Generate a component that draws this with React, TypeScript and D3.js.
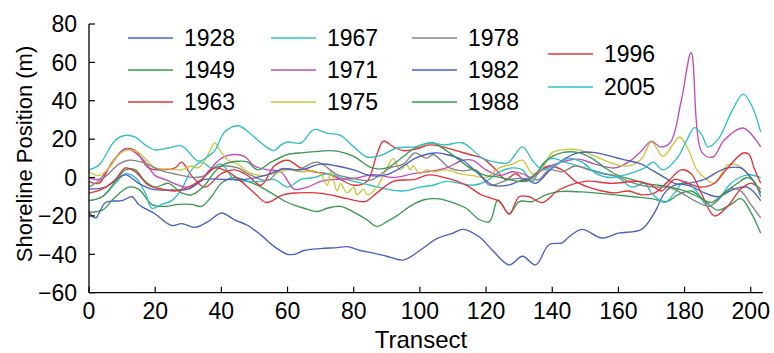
import React from "react";
import * as d3 from "d3";

// [transect, shoreline position (m)]
const s1928: [number, number][] = [[0,-18],[2,-21],[5,-13],[10,-12],[13,-10],[15,-14],[20,-19],[25,-25],[28,-24],[32,-26],[36,-23],[40,-18.5],[44,-22],[48,-25],[52,-30],[56,-36],[60,-40],[62,-40],[65,-38],[70,-37],[75,-36.5],[78,-36],[82,-38],[85,-39],[90,-41],[95,-43],[100,-38],[105,-32],[110,-29],[113,-27],[118,-31],[122,-38],[127,-45.5],[131,-41],[135,-45.5],[139,-35],[143,-34],[145,-31],[149,-27],[155,-31.5],[160,-29],[167,-27],[171,-18],[174,-8],[177,-4],[181,-4],[186,-8],[190,-10],[195,-6],[199,-5],[203,-12]];
const s1949: [number, number][] = [[0,-18],[4,-17],[8,-10],[12,-5],[15,-6],[19,-14],[23,-15],[27,-14],[31,-14],[34,-15],[37,-10],[40,-3],[44,0],[48,-2],[52,-5],[56,-9],[60,-13],[65,-16],[69,-17.7],[72,-16],[76,-15],[80,-18],[84,-22],[87,-25.5],[90,-23],[93,-20],[97,-15],[101,-11.7],[105,-11],[109,-12.5],[114,-16],[118,-22],[121,-23],[123.6,-11.7],[127,-19],[130,-12.5],[134,-12.5],[138,-9],[142,-7.3],[149,-7.5],[156,-8.5],[164.5,-10],[170,-11],[174.7,-12.5],[178,-9],[182,-7],[186,-12],[190,-17],[194,-14],[197,-11],[200,-18],[203,-29]];
const s1963: [number, number][] = [[0,-2],[3,-3],[7,8],[11,15],[14,14],[18,5],[22,4],[26,5],[28,8],[31,1],[35,-5],[40,2],[44,4],[48,1],[52,-4],[56,6],[60,9],[64,5],[68,3],[72,2],[76,-1],[80,-4],[84,-2],[87,12],[89,19],[92,16],[95,14],[99,15],[103,17],[107,16],[111,14],[115,12],[119,10],[123,4],[126,-1],[129,2],[132,-2],[135,2],[139,6],[143,4],[147,-2],[151,-5],[155,-7],[159,-8],[163,-7],[167,-9],[171,-8],[175,-2],[179,4],[182,2],[185,-8],[189,-20],[193,-15],[197,-6],[200,-3],[203,-6]];
const s1967: [number, number][] = [[0,-12],[4,-10],[8,-3],[11,2],[14,0],[17,-8],[19,-16],[22,-14],[25,-12],[28,-6],[31,4],[34,8],[37,5],[40,7],[44,-1],[48,-2],[52,-2],[56,-1],[60,-5],[64,-1],[68,0],[72,2],[76,0],[80,-2],[85,-4],[90,-6],[95,-7],[100,-5],[104,-4],[108,-2],[112,-3],[116,-4],[120,-2],[124,3],[128,5],[131,4],[134,-2],[137,7],[140,10],[144,8],[148,6],[152,4],[156,2],[160,0],[164,-5],[168,-3],[170,-8],[174,-13],[177,-8],[180,-2],[184,-8],[187,-15],[190,-12],[194,-3],[199,1.4],[203,0]];
const s1971: [number, number][] = [[0,0],[3,-1],[6,5],[9,12],[11,15],[14,13],[17,8],[20,1],[23,-1],[27,-4],[30,-5],[33,-3],[36,3],[40,10],[44,12],[47,11],[50,6],[54,4],[58,3],[62,-6],[66,-5],[70,-2],[74,-1],[80,-0.5],[86,1.5],[92,0],[98,2],[104,3.5],[108,5],[113,9],[116,9],[120,4],[124,1],[128,3],[131,2],[134,0],[137,4],[141,7],[145,9],[148,9.6],[153,7],[159,5],[163,8],[167,14],[170,19],[172.6,16],[175.6,18],[179,40],[182,65],[185.3,13],[188.6,10.7],[192,19.6],[197.7,25.8],[203,16]];
const s1975: [number, number][] = [[0,3],[3,1],[6,5],[9,12],[12,14.4],[15,13],[18,8],[20,5],[24,4.5],[28,4],[31,6],[33,5],[36,12],[38,18],[40,13],[42,9],[45,7],[48,3],[52,1],[56,2],[60,4],[64,3],[68,3.5],[70,2],[72,-4],[73,3],[75,-7],[76,-3],[78,-8],[80,-5],[81,-9],[83,-6],[84,-9],[86,-7],[88,-2],[90,5],[92,10],[94,4],[96,7],[97,4],[98,6],[100,2],[102,4],[104,3],[108,4],[112,2],[116,1],[120,0],[124,5],[128,7],[131,9],[134,2],[137,5],[140,13],[143,14.4],[148,14.4],[153,11],[159,7],[163,6],[167,9.8],[170,18.5],[173.5,11],[178.5,21],[181,15],[183.7,4],[186.7,-1],[189,-3],[193,6.5],[196,6.5],[200,0],[203,-7.6]];
const s1978: [number, number][] = [[0,-5],[5,0.5],[9,7],[12,9],[16,8],[22,3.5],[27,1.5],[32,0],[35,1],[38,5],[41,6],[45,5],[48,2],[54,-1.5],[58,4.5],[63,4],[69,8],[75,1.5],[80,-0.5],[85,-1.5],[91,5],[95,7],[98.5,12.8],[102,10],[104,12],[109,5],[113,3.5],[117,4],[121,-4],[127,-1],[133,-0.5],[136,-1],[139,4],[143,3],[147,6],[151,4],[155,2],[159,1],[163,-2],[167,-4],[171,-5],[175,-5],[179,-8],[183,-12],[187.5,-15],[191,-10],[194,-5.7],[197,-7],[200,-14],[203,-21]];
const s1982: [number, number][] = [[0,-6],[5,-5],[11,1.4],[15,-3],[19,-6],[25,-6.5],[30,-6],[35,-1],[41,-1],[47,-1],[53,1],[59,4.5],[64,4],[70,7],[75,6],[80,4],[85,1],[90,1.5],[95,6],[98.5,10],[104.5,12.8],[108,12],[113,9],[117,3],[122,-4],[126.5,-4],[132,-1],[135,-3],[139.4,4],[144,10],[148,13],[153,13],[161,9.6],[167,7],[170,4],[174,0],[177,-3],[181,-3],[186,-1],[190,3],[193,5],[197,5],[200,0],[203,-8]];
const s1988: [number, number][] = [[0,-12],[4,-10],[8,-2],[11,4],[14,4],[17,-2],[20,-5],[24,-3],[28,-8],[31,-9],[35,-4],[38,3],[41,7],[45,8.5],[48,8],[51,4],[55,8],[60,12],[65,13],[70,13.8],[75,13.8],[80,11],[85.5,5],[90,5],[95,11],[98.5,15.5],[104,18],[108,14],[112,9],[116,4],[120,1],[123,0.5],[127,-1],[131.5,-2],[135,2],[139,10],[143,13],[148,13],[152,10],[156,5],[160,1],[164,-1],[168,-3],[172,-4],[176,-5],[180,-7],[184,-10],[188,-13],[192,-8],[196,-3],[199,0],[201,-2],[203,-10]];
const s1996: [number, number][] = [[0,-8],[4,-6],[8,-1],[11,5],[14,3],[18,-4],[22,-6],[26,-7],[30,-5],[34,-1],[38,5],[42,3],[46,-2],[50,-8],[53.6,-13],[58.6,-9],[63,-8],[68.7,-8],[73,-9],[78,-11],[83.4,-12.5],[87,-8],[92,-2],[98.5,-1],[102.6,1.4],[109.6,-1],[114,-4],[118.6,-9],[124,-12.5],[127,-19],[130,-10],[133,-10],[137,-13],[142,-6.5],[150,-2],[158,-3],[166,-2],[170,-4],[173,-7],[177,-1],[181,-3],[185,-5],[189,-3],[193,5],[197.7,12.8],[199.5,12],[201,5],[203,-3]];
const s2005: [number, number][] = [[0,4],[3,6.5],[8,19.6],[11,22],[14,21],[17,17],[20,14.4],[24,15.4],[28,16.5],[33,8.6],[36,11],[38,14],[41,23.7],[45,27],[48,24],[52,18],[56,14],[58,17],[60,18.5],[64,18],[68,25],[72,23],[76,22],[80,16],[84,10.7],[88.5,11.7],[93,15.4],[98.5,16],[103,18],[107.6,17],[113,18],[119,10],[123,8],[126.6,7.6],[131,16],[134,9],[137,4],[141,6.5],[145,10],[149,8],[154,1.4],[158,0],[162,1.4],[165,3],[168,5],[170.5,8],[173.5,4],[177.7,10],[180.7,19.6],[183,26],[185.3,22],[187,16],[190,19.6],[194.4,35],[197.7,43.5],[200.4,37],[203,23.7]];

const years = ["1928","1949","1963","1967","1971","1975","1978","1982","1988","1996","2005"];
const colors = ["#4b5fc0","#3a9a52","#e2333a","#2fc0c6","#c04db4","#c9c83c","#858585","#4b5fc0","#3a9a52","#e2333a","#2fc0c6"];
const seriesData = [s1928,s1949,s1963,s1967,s1971,s1975,s1978,s1982,s1988,s1996,s2005];

const xTicks = [0,20,40,60,80,100,120,140,160,180,200];
const yTicks = [-60,-40,-20,0,20,40,60,80];

export default function App() {
  const W = 774, H = 353;
  const x = d3.scaleLinear().domain([0, 203.7]).range([89, 763]);
  const y = d3.scaleLinear().domain([-60, 80]).range([292.7, 24]);
  const line = d3.line<[number, number]>()
    .x(d => x(d[0])).y(d => y(d[1]))
    .curve(d3.curveCatmullRom.alpha(0.5));
  const font = "'Liberation Sans', Arial, Helvetica, sans-serif";
  const legendCols = [[0,1,2],[3,4,5],[6,7,8],[9,10]];
  const colLineX = [128, 271, 412, 548];
  const colRowY = [[38,70,102],[38,70,102],[38,70,102],[54,87]];
  return (
    <div style={{ position: "absolute", left: 0, top: 0 }}>
      <svg width={W} height={H} style={{ display: "block", background: "#fff" }}>
        <g>
          {seriesData.map((s, i) => (
            <path key={years[i]} d={line(s) || ""} fill="none" stroke={colors[i]} strokeWidth={1.35} />
          ))}
        </g>
        <line x1={89} x2={89} y1={y(80)} y2={y(-60)} stroke="#000" strokeWidth={1.3} />
        <line x1={89} x2={763} y1={y(-60)} y2={y(-60)} stroke="#000" strokeWidth={1.3} />
        {yTicks.map(t => (
          <g key={"y" + t}>
            <line x1={89} x2={95} y1={y(t)} y2={y(t)} stroke="#000" strokeWidth={1.2} />
            <text x={77} y={y(t)} dy="0.36em" textAnchor="end" fontFamily={font} fontSize={23}>{t < 0 ? "\u2212" + Math.abs(t) : t}</text>
          </g>
        ))}
        {xTicks.map(t => (
          <g key={"x" + t}>
            <line x1={x(t)} x2={x(t)} y1={y(-60)} y2={y(-60) - 6} stroke="#000" strokeWidth={1.2} />
            <text x={x(t)} y={319} textAnchor="middle" fontFamily={font} fontSize={23}>{t}</text>
          </g>
        ))}
        <text x={421} y={348} textAnchor="middle" fontFamily={font} fontSize={24}>Transect</text>
        <text transform="translate(32,154) rotate(-90)" textAnchor="middle" fontFamily={font} fontSize={22}>Shoreline Position (m)</text>
        {legendCols.map((col, ci) => col.map((si, ri) => (
          <g key={"lg" + si}>
            <line x1={colLineX[ci]} x2={colLineX[ci] + 45} y1={colRowY[ci][ri]} y2={colRowY[ci][ri]} stroke={colors[si]} strokeWidth={1.5} />
            <text x={colLineX[ci] + 56} y={colRowY[ci][ri]} dy="0.36em" fontFamily={font} fontSize={23}>{years[si]}</text>
          </g>
        )))}
      </svg>
    </div>
  );
}
